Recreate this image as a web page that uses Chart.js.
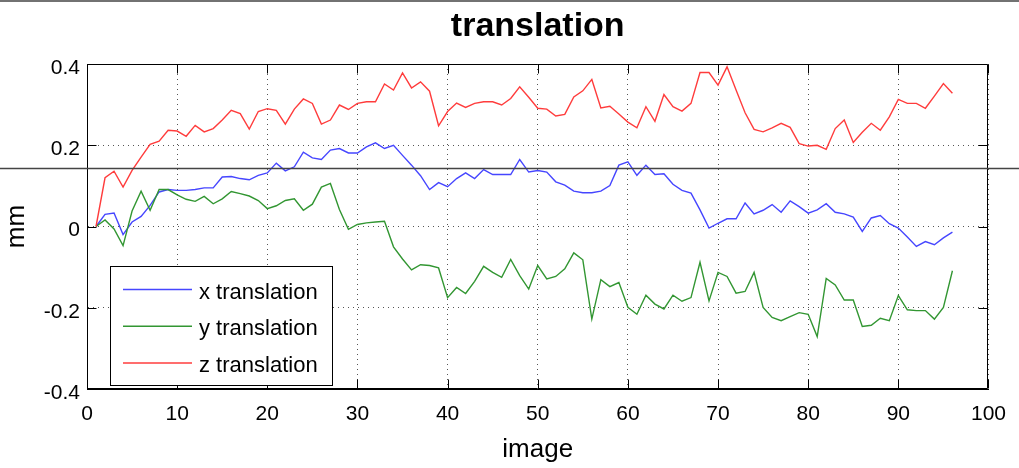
<!DOCTYPE html>
<html>
<head>
<meta charset="utf-8">
<title>translation</title>
<script src="https://cdn.jsdelivr.net/npm/chart.js@4/dist/chart.umd.min.js"></script>
<style>
  html, body { margin: 0; padding: 0; background: #fff; }
  #chart { display: block; }
</style>
</head>
<body>
<canvas id="chart" width="1019" height="468"></canvas>
<script>
(() => {
  'use strict';

  // image numbers (x axis)
  const images = [
    1, 2, 3, 4, 5, 6, 7, 8, 9, 10, 11, 12, 13, 14, 15, 16, 17, 18, 19, 20,
    21, 22, 23, 24, 25, 26, 27, 28, 29, 30, 31, 32, 33, 34, 35, 36, 37, 38, 39, 40,
    41, 42, 43, 44, 45, 46, 47, 48, 49, 50, 51, 52, 53, 54, 55, 56, 57, 58, 59, 60,
    61, 62, 63, 64, 65, 66, 67, 68, 69, 70, 71, 72, 73, 74, 75, 76, 77, 78, 79, 80,
    81, 82, 83, 84, 85, 86, 87, 88, 89, 90, 91, 92, 93, 94, 95, 96
  ];

  // translations in mm
  const xTranslation = [
    0, 0.030, 0.033, -0.020, 0.011, 0.025, 0.052, 0.085, 0.091, 0.089,
    0.089, 0.091, 0.095, 0.095, 0.122, 0.123, 0.118, 0.115, 0.126, 0.132,
    0.156, 0.137, 0.147, 0.183, 0.169, 0.165, 0.188, 0.192, 0.181, 0.181,
    0.196, 0.206, 0.192, 0.200, 0.175, 0.151, 0.125, 0.091, 0.108, 0.098,
    0.118, 0.132, 0.118, 0.140, 0.128, 0.128, 0.128, 0.165, 0.134, 0.138,
    0.134, 0.110, 0.102, 0.087, 0.083, 0.083, 0.087, 0.101, 0.151, 0.159,
    0.126, 0.151, 0.128, 0.130, 0.104, 0.089, 0.082, 0.041, -0.004, 0.008,
    0.019, 0.019, 0.058, 0.031, 0.040, 0.054, 0.035, 0.063, 0.049, 0.033,
    0.041, 0.056, 0.035, 0.031, 0.023, -0.012, 0.021, 0.027, 0.007, -0.004,
    -0.026, -0.049, -0.037, -0.045, -0.028, -0.014
  ];
  const yTranslation = [
    0, 0.016, -0.006, -0.047, 0.038, 0.087, 0.040, 0.091, 0.091, 0.078,
    0.067, 0.062, 0.074, 0.056, 0.068, 0.086, 0.081, 0.075, 0.064, 0.044,
    0.051, 0.064, 0.068, 0.040, 0.055, 0.097, 0.106, 0.042, -0.007, 0.005,
    0.009, 0.011, 0.013, -0.050, -0.080, -0.107, -0.094, -0.096, -0.102, -0.175,
    -0.150, -0.165, -0.135, -0.098, -0.113, -0.125, -0.081, -0.121, -0.154, -0.096,
    -0.129, -0.123, -0.104, -0.065, -0.082, -0.228, -0.131, -0.148, -0.138, -0.199,
    -0.216, -0.169, -0.191, -0.203, -0.169, -0.184, -0.175, -0.088, -0.183, -0.113,
    -0.123, -0.164, -0.160, -0.113, -0.199, -0.224, -0.232, -0.222, -0.212, -0.216,
    -0.271, -0.128, -0.144, -0.181, -0.181, -0.246, -0.243, -0.226, -0.232, -0.170,
    -0.205, -0.207, -0.207, -0.228, -0.199, -0.109
  ];
  const zTranslation = [
    0, 0.120, 0.136, 0.097, 0.138, 0.171, 0.202, 0.210, 0.237, 0.235,
    0.222, 0.249, 0.233, 0.241, 0.262, 0.286, 0.278, 0.240, 0.283, 0.290,
    0.286, 0.252, 0.289, 0.314, 0.303, 0.252, 0.262, 0.299, 0.288, 0.303,
    0.307, 0.307, 0.351, 0.336, 0.378, 0.341, 0.356, 0.333, 0.248, 0.283,
    0.304, 0.293, 0.303, 0.307, 0.307, 0.299, 0.315, 0.344, 0.318, 0.291,
    0.289, 0.272, 0.276, 0.319, 0.334, 0.362, 0.292, 0.296, 0.277, 0.257,
    0.243, 0.295, 0.259, 0.325, 0.295, 0.284, 0.303, 0.379, 0.379, 0.348,
    0.393, 0.336, 0.280, 0.239, 0.233, 0.243, 0.254, 0.244, 0.204, 0.198,
    0.200, 0.190, 0.241, 0.262, 0.207, 0.232, 0.254, 0.237, 0.270, 0.313,
    0.303, 0.303, 0.291, 0.321, 0.352, 0.328
  ];

  const xTicks = [0, 10, 20, 30, 40, 50, 60, 70, 80, 90, 100];
  const yTicks = [-0.4, -0.2, 0, 0.2, 0.4];
  const yTickLabels = ['-0.4', '-0.2', '0', '0.2', '0.4'];

  const FONT = "'Liberation Sans', Arial, sans-serif";

  const points = vals => images.map((img, i) => ({ x: img, y: vals[i] }));

  // MATLAB style frame, inward ticks, legend box and the stray rules in the screenshot
  const decorations = {
    id: 'decorations',
    beforeDraw(chart) {
      const ctx = chart.ctx;
      ctx.save();
      ctx.fillStyle = '#fff';
      ctx.fillRect(0, 0, chart.width, chart.height);
      ctx.restore();
    },
    afterDatasetsDraw(chart) {
      const { ctx, chartArea: a, scales: { x, y } } = chart;
      const L = Math.round(a.left) + 0.5, R = Math.round(a.right) - 0.5;
      const T = Math.round(a.top) + 0.5, B = Math.round(a.bottom) - 0.5;
      const tick = 9;
      ctx.save();
      ctx.strokeStyle = '#000';
      ctx.lineWidth = 1;
      ctx.beginPath();
      ctx.rect(L, T, R - L, B - T);
      xTicks.forEach(v => {
        const px = Math.round(x.getPixelForValue(v)) + 0.5;
        ctx.moveTo(px, B); ctx.lineTo(px, B - tick);
        ctx.moveTo(px, T); ctx.lineTo(px, T + tick);
      });
      yTicks.forEach(v => {
        const py = Math.round(y.getPixelForValue(v)) + 0.5;
        ctx.moveTo(L, py); ctx.lineTo(L + tick, py);
        ctx.moveTo(R, py); ctx.lineTo(R - tick, py);
      });
      ctx.stroke();

      // legend
      const box = { left: 110.5, top: 266.5, right: 332.5, bottom: 385.5 };
      ctx.fillStyle = '#fff';
      ctx.fillRect(box.left, box.top, box.right - box.left, box.bottom - box.top);
      ctx.strokeRect(box.left, box.top, box.right - box.left, box.bottom - box.top);
      ctx.font = '22px ' + FONT;
      ctx.textBaseline = 'middle';
      ctx.textAlign = 'left';
      chart.data.datasets.forEach((ds, i) => {
        const ly = 289.5 + i * 36.7;
        ctx.strokeStyle = ds.borderColor;
        ctx.lineWidth = 1.5;
        ctx.beginPath();
        ctx.moveTo(123, ly); ctx.lineTo(192, ly);
        ctx.stroke();
        ctx.fillStyle = '#000';
        ctx.fillText(ds.label, 199, ly + 3);
      });

      // dark rules across the whole picture
      ctx.strokeStyle = '#444';
      ctx.lineWidth = 1.5;
      ctx.beginPath();
      ctx.moveTo(0, 1); ctx.lineTo(chart.width, 1);
      ctx.moveTo(0, 168.5); ctx.lineTo(chart.width, 168.5);
      ctx.stroke();
      ctx.restore();
    }
  };

  const gridOpts = { color: '#555', lineWidth: 1, drawTicks: false };
  const borderOpts = { display: true, color: '#000', width: 1, dash: [1, 4] };

  new Chart(document.getElementById('chart'), {
    type: 'line',
    data: {
      datasets: [
        { label: 'x translation', data: points(xTranslation), borderColor: 'rgb(70,70,255)', order: 3 },
        { label: 'y translation', data: points(yTranslation), borderColor: 'rgb(50,150,50)', order: 2 },
        { label: 'z translation', data: points(zTranslation), borderColor: 'rgb(255,60,60)', order: 1 },
      ],
    },
    options: {
      responsive: false,
      animation: false,
      devicePixelRatio: 1,
      layout: { padding: { left: 0, right: 22, top: 0, bottom: 0 } },
      elements: {
        line: { borderWidth: 1.4, tension: 0, fill: false },
        point: { radius: 0 },
      },
      plugins: {
        legend: { display: false },
        tooltip: { enabled: false },
        title: {
          display: true,
          text: 'translation',
          fullSize: false,
          color: '#000',
          font: { family: FONT, size: 34, weight: 'bold' },
          padding: { top: 6, bottom: 17.2 },
        },
      },
      scales: {
        x: {
          type: 'linear',
          min: 0,
          max: 100,
          afterBuildTicks: s => { s.ticks = xTicks.map(v => ({ value: v })); },
          afterFit: s => { s.height = 79; },
          ticks: { color: '#000', font: { family: FONT, size: 21 }, padding: 13, maxRotation: 0 },
          grid: gridOpts,
          border: borderOpts,
          title: {
            display: true, text: 'image', color: '#000',
            font: { family: FONT, size: 26 }, padding: { top: 0, bottom: 3 },
          },
        },
        y: {
          min: -0.4,
          max: 0.4,
          afterBuildTicks: s => { s.ticks = yTicks.map(v => ({ value: v })); },
          afterFit: s => { s.width = 87; },
          ticks: {
            color: '#000', font: { family: FONT, size: 21 }, padding: 7, labelOffset: 4,
            callback: (v, i) => yTickLabels[i],
          },
          grid: gridOpts,
          border: borderOpts,
          title: {
            display: true, text: 'mm', color: '#000',
            font: { family: FONT, size: 26 }, padding: { top: 1, bottom: 0 },
          },
        },
      },
    },
    plugins: [decorations],
  });
})();
</script>
</body>
</html>
